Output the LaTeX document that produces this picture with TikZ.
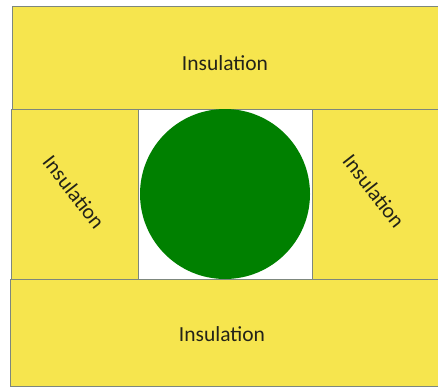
\documentclass[tikz,border=0pt]{standalone}
\usepackage{fontspec}
\setmainfont{Carlito}
\definecolor{insul}{RGB}{246,229,78}
\definecolor{pipe}{RGB}{0,128,0}
\definecolor{edge}{RGB}{125,135,125}
\definecolor{txt}{RGB}{35,35,25}
\begin{document}
\begin{tikzpicture}[x=1pt,y=-1pt,
  panel/.style={fill=insul,draw=edge,line width=1pt},
  lbl/.style={text=txt,font=\fontsize{21.5}{25}\selectfont,inner sep=0pt}]
\useasboundingbox (0,0) rectangle (438,388);
\fill[white] (0,0) rectangle (438,388);
\draw[panel] (12,6) rectangle (446,109);
\draw[panel] (11,109) rectangle (138,279);
\draw[panel] (312,109) rectangle (446,279);
\draw[panel] (10,279) rectangle (446,386);
\draw[fill=white,draw=edge,line width=1pt] (138,109) rectangle (312,279);
\fill[pipe] (225,194) circle (85);
\node[lbl] (top) at (225,63) {Insulation};
\node[lbl,rotate=-52] (left) at (74,192) {Insulation};
\node[lbl,rotate=-52] (right) at (374,191) {Insulation};
\node[lbl] (bottom) at (222,334) {Insulation};
\end{tikzpicture}
\end{document}
